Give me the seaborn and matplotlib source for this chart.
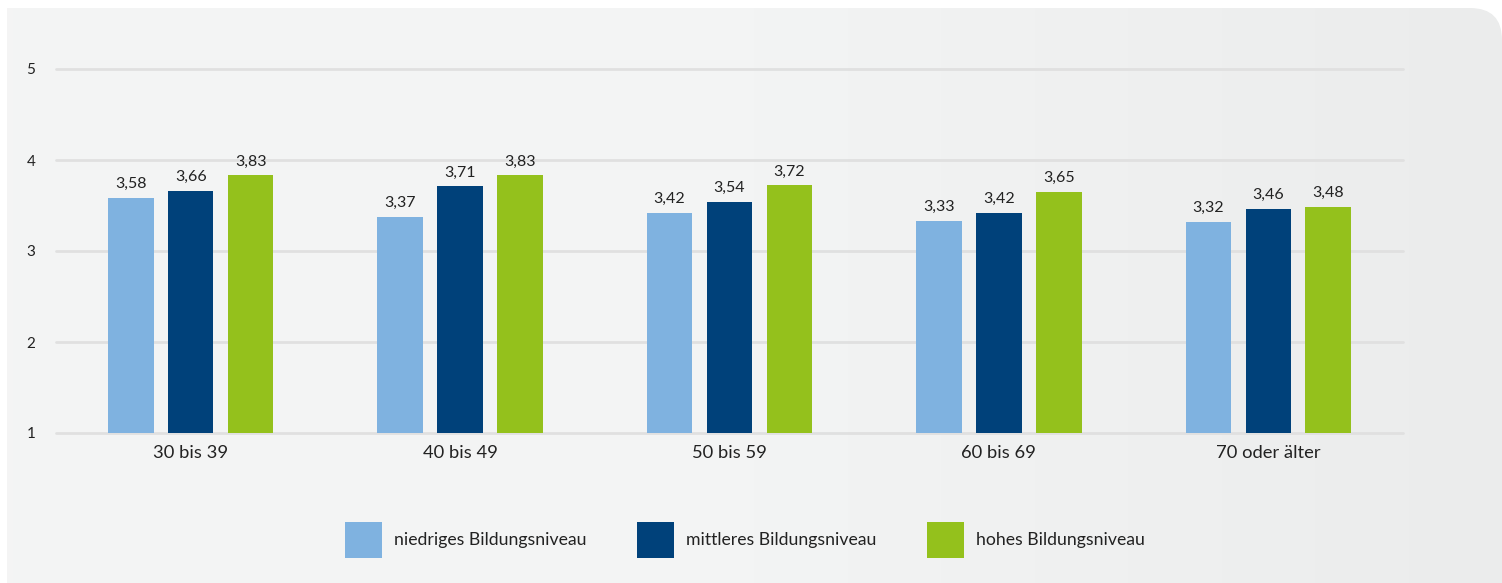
import numpy as np
import pandas as pd
import matplotlib
matplotlib.use("Agg")
import matplotlib.pyplot as plt
import seaborn as sns
from matplotlib.path import Path
from matplotlib.patches import PathPatch, Patch

# data
age_groups = ["30 bis 39", "40 bis 49", "50 bis 59", "60 bis 69", "70 oder älter"]
levels = ["niedriges Bildungsniveau", "mittleres Bildungsniveau", "hohes Bildungsniveau"]
niedrig = [3.58, 3.37, 3.42, 3.33, 3.32]
mittel = [3.66, 3.71, 3.54, 3.42, 3.46]
hoch = [3.83, 3.83, 3.72, 3.65, 3.48]
colors = ["#7fb2e0", "#00417a", "#94c11c"]
yticks = [1, 2, 3, 4, 5]

df = pd.DataFrame({
    "Alter": age_groups * 3,
    "Bildung": [levels[0]] * 5 + [levels[1]] * 5 + [levels[2]] * 5,
    "Wert": niedrig + mittel + hoch,
})

sns.set_theme(style="white")
plt.rcParams["font.family"] = ["Lato", "DejaVu Sans"]

W, H = 1502, 583
fig = plt.figure(figsize=(W / 100, H / 100), dpi=100)
fig.patch.set_facecolor("white")

# background panel with gradient and rounded top-right corner
bg = fig.add_axes([0, 0, 1, 1], zorder=-10)
bg.set_xlim(0, W)
bg.set_ylim(0, H)
bg.axis("off")
grad = np.linspace(0, 1, 256).reshape(1, -1)
cmap = matplotlib.colors.LinearSegmentedColormap.from_list("bg", ["#f4f4f4", "#f3f4f4", "#ebecec"])
im = bg.imshow(grad, extent=[7, W, 0, H - 8], aspect="auto", cmap=cmap, origin="lower")
r = 32
verts = [(7, 0), (7, H - 8), (W - r, H - 8), (W, H - 8), (W, H - 8 - r), (W, 0), (7, 0)]
codes = [Path.MOVETO, Path.LINETO, Path.LINETO, Path.CURVE3, Path.CURVE3, Path.LINETO, Path.CLOSEPOLY]
clip = PathPatch(Path(verts, codes), transform=bg.transData, facecolor="none", edgecolor="none")
bg.add_patch(clip)
im.set_clip_path(clip)

ax = fig.add_axes([56 / W, 1 - 433 / H, (1403 - 56) / W, (433 - 69) / H])
ax.set_facecolor("none")
sns.barplot(data=df, x="Alter", y="Wert", hue="Bildung", hue_order=levels,
            palette=colors, saturation=1, width=0.667, gap=0.24, ax=ax, legend=False,
            edgecolor="none", linewidth=0)
ax.set_ylim(1, 5)
ax.set_xlim(-0.5, 4.5)
ax.set_yticks(yticks)
ax.set_yticklabels([str(t) for t in yticks], fontsize=11, color="#222222")
ax.tick_params(axis="y", length=0, pad=15)
ax.tick_params(axis="x", length=0, pad=9, labelsize=13.2, labelcolor="#222222")
ax.set_xlabel("")
ax.set_ylabel("")
for s in ax.spines.values():
    s.set_visible(False)
for t in yticks:
    ax.axhline(t, color="#e0e0e0", lw=2, zorder=0, clip_on=False)

for cont in ax.containers:
    ax.bar_label(cont, labels=[f"{b.get_height():.2f}".replace(".", ",") for b in cont],
                 padding=5, fontsize=11.5, color="#222222")

handles = [Patch(facecolor=c, edgecolor="none") for c in colors]
fig.legend(handles, levels, loc="center", bbox_to_anchor=(745 / W, 1 - 540 / H),
           ncol=3, frameon=False, fontsize=12.7, handlelength=2.1, handleheight=2.8,
           handletextpad=0.68, columnspacing=2.85, labelcolor="#222222")

fig.savefig("out.png", dpi=100, facecolor=fig.get_facecolor())
